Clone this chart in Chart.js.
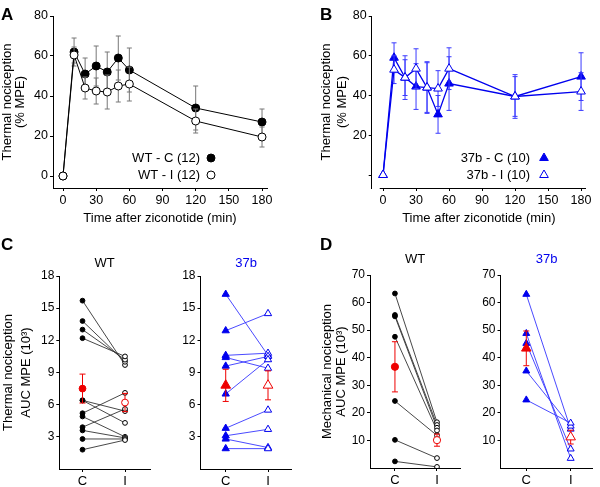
<!DOCTYPE html>
<html lang="en">
<head>
  <meta charset="UTF-8" />
  <title>Ziconotide nociception</title>
  <script src="https://cdn.jsdelivr.net/npm/chart.js"></script>
  <style>
    body {
      margin: 0;
      background: #fff;
      font-family: "Liberation Sans", Arial, sans-serif;
    }
    #fig {
      position: relative;
      width: 600px;
      height: 487px;
    }
    canvas {
      position: absolute;
    }
    .tag {
      position: absolute;
      font-size: 17px;
      font-weight: bold;
      line-height: 1;
    }
  </style>
</head>
<body>

  <div id="fig">
    <canvas id="chartA" style="left:0;top:0" width="300" height="230"></canvas>
    <canvas id="chartB" style="left:300px;top:0" width="300" height="230"></canvas>
    <canvas id="chartCwt" style="left:0;top:230px" width="155" height="257"></canvas>
    <canvas id="chartC37" style="left:150px;top:230px" width="150" height="257"></canvas>
    <canvas id="chartDwt" style="left:300px;top:230px" width="165" height="257"></canvas>
    <canvas id="chartD37" style="left:450px;top:230px" width="150" height="257"></canvas>

    <div class="tag" style="left:1px;top:6px">A</div>
    <div class="tag" style="left:320px;top:6px">B</div>
    <div class="tag" style="left:1px;top:236px">C</div>
    <div class="tag" style="left:320px;top:236px">D</div>
  </div>

  <script>
    // time course (A, B)
    const times = [0, 10, 20, 30, 40, 50, 60, 120, 180];
    const timeTicks = [0, 30, 60, 90, 120, 150, 180];
    const mpeTicks = [0, 20, 40, 60, 80];

    const wtC = [0, 62, 51, 55, 52, 59, 53, 34, 27];
    const wtCSem = [0, 7, 8, 10, 10, 11, 11, 11, 6.5];
    const wtI = [0, 60.5, 44, 42.5, 42, 45, 46, 27.5, 19.5];
    const wtISem = [0, 4, 5.5, 6.5, 8.5, 8, 8.5, 6, 5];

    const b37C = [0, 59, 49, 44.5, 44, 30.5, 46, 39.5, 49.5];
    const b37CSem = [0, 7.5, 9, 11.5, 12.5, 9.5, 13.5, 10, 12];
    const b37I = [0, 53, 49, 53.5, 44, 43.5, 53.5, 39.5, 42];
    const b37ISem = [0, 7, 11, 10, 13, 9, 10.5, 11, 9.5];

    // AUC, paired animals (C, D)
    const groups = ['C', 'I'];
    const thermTicks = [3, 6, 9, 12, 15, 18];
    const mechTicks = [10, 20, 30, 40, 50, 60, 70];

    const cWtC = [15.7, 13.8, 13.0, 12.2, 6.4, 6.4, 5.2, 4.9, 3.9, 3.6, 2.8, 1.8];
    const cWtI = [9.7, 10.0, 10.2, 10.5, 5.4, 4.3, 7.1, 3.0, 5.6, 2.9, 2.8, 2.7];
    const cWtMean = [7.5, 6.2];
    const cWtSem = [1.35, 0.85];

    const c37C = [16.3, 12.9, 10.6, 10.4, 9.6, 7.0, 3.8, 3.1, 2.8, 1.9];
    const c37I = [10.6, 14.5, 10.8, 9.4, 10.5, 10.2, 5.5, 3.7, 2.0, 1.9];
    const c37Mean = [7.8, 7.8];
    const c37Sem = [1.5, 1.35];

    const dWtC = [63.3, 55.5, 55.0, 47.6, 24.3, 10.2, 2.4];
    const dWtI = [16.6, 15.6, 14.6, 13.6, 11.8, 3.6, 0.4];
    const dWtMean = [36.7, 10.1];
    const dWtSem = [9.1, 2.2];

    const d37C = [63.0, 48.8, 45.2, 35.2, 24.7];
    const d37I = [14.1, 3.5, 6.9, 15.2, 16.3];
    const d37Mean = [43.4, 11.2];
    const d37Sem = [6.3, 2.5];

    const BLUE = '#0000ee';
    const RED = '#ee0000';

    Chart.defaults.font.family = '"Liberation Sans", Arial, sans-serif';
    Chart.defaults.color = '#000';

    // SEM bars, drawn just under their own markers
    const errorBars = {
      id: 'errorBars',
      beforeDatasetDraw(chart, args) {
        const ds = chart.data.datasets[args.index];
        if (!ds.err) return;
        const { ctx, scales: { x, y } } = chart;
        const cap = ds.errCap || 2.5;
        ctx.save();
        ctx.strokeStyle = ds.errColor;
        ctx.lineWidth = 1;
        ds.data.forEach((p, i) => {
          const e = ds.err[i];
          if (!e) return;
          const px = x.getPixelForValue(p.x);
          const lo = y.getPixelForValue(p.y - e);
          const hi = y.getPixelForValue(p.y + e);
          ctx.beginPath();
          ctx.moveTo(px, lo); ctx.lineTo(px, hi);
          ctx.moveTo(px - cap, lo); ctx.lineTo(px + cap, lo);
          ctx.moveTo(px - cap, hi); ctx.lineTo(px + cap, hi);
          ctx.stroke();
        });
        ctx.restore();
      }
    };

    // legend with the marker on the right of the text, inside the plot
    const sideLegend = {
      id: 'sideLegend',
      afterDatasetsDraw(chart, args, opts) {
        if (!opts || !opts.items) return;
        const ctx = chart.ctx;
        ctx.save();
        ctx.font = '13px "Liberation Sans", Arial, sans-serif';
        ctx.textAlign = 'right';
        ctx.textBaseline = 'middle';
        opts.items.forEach((it, i) => {
          const ds = chart.data.datasets[it.ds];
          const y = opts.y + i * opts.dy;
          ctx.fillStyle = '#000';
          ctx.fillText(it.text, opts.x, y);
          ctx.fillStyle = ds.pointBackgroundColor;
          ctx.strokeStyle = ds.pointBorderColor;
          ctx.lineWidth = 1;
          Chart.helpers.drawPoint(ctx, { pointStyle: ds.pointStyle, radius: ds.pointRadius, borderWidth: 1, rotation: 0 }, opts.mx, y);
        });
        ctx.restore();
      }
    };

    // x axis line that starts at a data value instead of the plot edge
    const xLine = {
      id: 'xLine',
      afterDraw(chart, args, opts) {
        if (!opts || opts.from === undefined) return;
        const { ctx, chartArea, scales: { x } } = chart;
        const y = Math.round(chartArea.bottom) + 0.5;
        ctx.save();
        ctx.strokeStyle = '#000';
        ctx.lineWidth = 1;
        ctx.beginPath();
        ctx.moveTo(x.getPixelForValue(opts.from), y);
        ctx.lineTo(chartArea.right, y);
        ctx.stroke();
        ctx.restore();
      }
    };

    const pts = (xs, ys) => xs.map((x, i) => ({ x, y: ys[i] }));
    const pairs = (cs, is) => cs.flatMap((c, i) => [{ x: 0, y: c }, { x: 1, y: is[i] }, { x: 0.5, y: null }]);

    function axis(o) {
      return {
        type: 'linear',
        min: o.min,
        max: o.max,
        afterBuildTicks: s => { s.ticks = o.ticks.map(v => ({ value: v })); },
        afterFit: s => { if (o.w) s.width = o.w; if (o.h) s.height = o.h; },
        ticks: { font: { size: o.fs || 12 }, padding: 2, color: '#000', callback: o.label || (v => v) },
        grid: { drawOnChartArea: false, tickLength: 3, color: '#000' },
        border: { display: o.border !== false, color: '#000' },
        title: o.title
          ? { display: true, text: o.title, color: '#000', font: { size: 13, lineHeight: o.lh || 1.2 }, padding: o.tp }
          : { display: false }
      };
    }

    function makeChart(id, datasets, scales, extra) {
      return new Chart(document.getElementById(id), {
        type: 'scatter',
        data: { datasets },
        options: {
          responsive: false,
          animation: false,
          events: [],
          layout: { padding: extra.pad },
          scales,
          plugins: {
            legend: { display: false },
            tooltip: { enabled: false },
            title: extra.title || { display: false },
            sideLegend: extra.legend || {},
            xLine: extra.xLine || {}
          }
        },
        plugins: [errorBars, sideLegend, xLine]
      });
    }

    function series(label, xs, ys, sem, color, style, filled, r, lw, errColor) {
      return {
        label, data: pts(xs, ys), err: sem, errColor, errCap: 2.5,
        showLine: true, borderColor: color, borderWidth: lw,
        pointStyle: style, pointRadius: r, pointBorderWidth: 1,
        pointBackgroundColor: filled ? color : '#fff', pointBorderColor: color
      };
    }

    // A
    makeChart('chartA', [
      series('WT - I (12)', times, wtI, wtISem, '#000', 'circle', false, 4, 1, '#777'),
      series('WT - C (12)', times, wtC, wtCSem, '#000', 'circle', true, 4, 1, '#777')
    ], {
      x: axis({ min: -9.05, max: 184.5, ticks: timeTicks, h: 42, title: 'Time after ziconotide (min)', fs: 12.5, tp: { top: 0, bottom: 4.2 } }),
      y: axis({ min: -6, max: 80, ticks: mpeTicks, w: 53, title: ['Thermal nociception', '(% MPE)'], fs: 12.5, lh: 12.6 / 13, tp: { top: 1.4, bottom: 0 } })
    }, {
      pad: { top: 16, right: 33, left: 0, bottom: 0 },
      legend: { x: 200, mx: 211, y: 158, dy: 17, items: [{ text: 'WT - C (12)', ds: 1 }, { text: 'WT - I (12)', ds: 0 }] }
    });

    // B
    makeChart('chartB', [
      series('37b - I (10)', times, b37I, b37ISem, BLUE, 'triangle', false, 5, 1.3, '#3b3bff'),
      series('37b - C (10)', times, b37C, b37CSem, BLUE, 'triangle', true, 5, 1.3, '#3b3bff')
    ], {
      x: axis({ min: -10.3, max: 184.5, ticks: timeTicks, h: 42, border: false, title: 'Time after ziconotide (min)', fs: 12.5, tp: { top: 0, bottom: 4.2 } }),
      y: axis({ min: -6.54, max: 80, ticks: mpeTicks, w: 71.7, label: v => (v === 0 ? '' : v), title: ['Thermal nociception', '(% MPE)'], fs: 12.5, lh: 15.2 / 13, tp: { top: 19.2, bottom: 0 } })
    }, {
      pad: { top: 16, right: 14, left: 0, bottom: 0 },
      xLine: { from: -3 },
      legend: { x: 230, mx: 244, y: 158, dy: 17, items: [{ text: '37b - C (10)', ds: 1 }, { text: '37b - I (10)', ds: 0 }] }
    });

    // C and D: paired values per animal with group mean ± SEM
    function pairedSets(cs, is, mean, sem, color, lineColor, style, r, rMean) {
      return [
        {
          label: 'mean', data: pts([0, 1], mean), err: sem, errColor: RED, errCap: 3,
          pointStyle: style, pointRadius: rMean, pointBorderWidth: 1,
          pointBackgroundColor: [RED, '#fff'], pointBorderColor: RED
        },
        {
          label: 'I', data: pts(is.map(() => 1), is),
          pointStyle: style, pointRadius: r, pointBorderWidth: 1,
          pointBackgroundColor: '#fff', pointBorderColor: color
        },
        {
          label: 'C', data: pts(cs.map(() => 0), cs),
          pointStyle: style, pointRadius: r, pointBorderWidth: 1,
          pointBackgroundColor: color, pointBorderColor: color
        },
        {
          label: 'pairs', data: pairs(cs, is), showLine: true, spanGaps: false,
          borderColor: lineColor, borderWidth: 0.9, pointRadius: 0
        }
      ];
    }

    function groupTitle(text, color, top, bottom) {
      return { display: true, text, color, fullSize: false, font: { size: 13, weight: 'normal' }, padding: { top, bottom } };
    }

    const catLabel = v => groups[v];

    makeChart('chartCwt', pairedSets(cWtC, cWtI, cWtMean, cWtSem, '#000', '#333', 'circle', 2.4, 3.4), {
      x: axis({ min: -0.546, max: 1.588, ticks: [0, 1], h: 18, fs: 13, label: catLabel }),
      y: axis({ min: 0, max: 18, ticks: thermTicks, w: 59.3, title: ['Thermal nociception', 'AUC MPE (10³)'], lh: 17.5 / 13, tp: { top: 0, bottom: 0 } })
    }, {
      pad: { top: 0, right: 5, left: 0, bottom: 0 },
      title: groupTitle('WT', '#000', 25.2, 5.2)
    });

    makeChart('chartC37', pairedSets(c37C, c37I, c37Mean, c37Sem, BLUE, '#3535ff', 'triangle', 4.2, 5.6), {
      x: axis({ min: -0.596, max: 1.56, ticks: [0, 1], h: 18, fs: 13, label: catLabel }),
      y: axis({ min: 0, max: 18, ticks: thermTicks, w: 50.5 })
    }, {
      pad: { top: 0, right: 8.3, left: 0, bottom: 0 },
      title: groupTitle('37b', BLUE, 25.2, 5.2)
    });

    makeChart('chartDwt', pairedSets(dWtC, dWtI, dWtMean, dWtSem, '#000', '#333', 'circle', 2.4, 3.6), {
      x: axis({ min: -0.593, max: 1.547, ticks: [0, 1], h: 19, fs: 13, label: catLabel }),
      y: axis({ min: 0, max: 70, ticks: mechTicks, w: 70, title: ['Mechanical nociception', 'AUC MPE (10³)'], lh: 14.7 / 13, tp: { top: 19.65, bottom: 0 } })
    }, {
      pad: { top: 0, right: 3, left: 0, bottom: 0 },
      title: groupTitle('WT', '#000', 21.2, 8.2)
    });

    makeChart('chartD37', pairedSets(d37C, d37I, d37Mean, d37Sem, BLUE, '#3535ff', 'triangle', 4, 5.5), {
      x: axis({ min: -0.581, max: 1.496, ticks: [0, 1], h: 19, fs: 13, label: catLabel }),
      y: axis({ min: 0, max: 70, ticks: mechTicks, w: 50.5 })
    }, {
      pad: { top: 0, right: 7.3, left: 0, bottom: 0 },
      title: groupTitle('37b', BLUE, 21.2, 8.2)
    });
  </script>

</body>
</html>
